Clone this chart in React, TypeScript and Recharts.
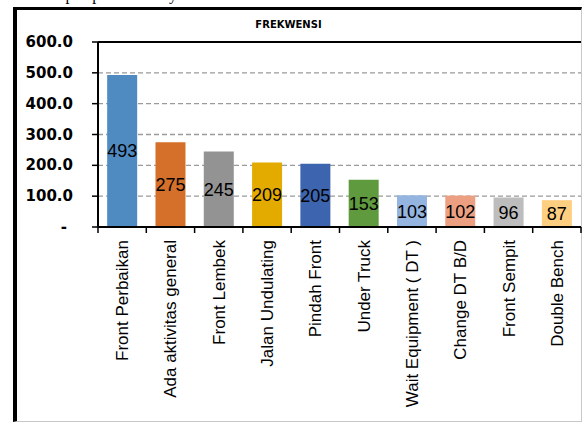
import React from 'react';
import { BarChart, Bar, XAxis, YAxis, CartesianGrid, LabelList, Cell, ReferenceLine } from 'recharts';

const categories = [
  'Front Perbaikan',
  'Ada aktivitas general',
  'Front Lembek',
  'Jalan Undulating',
  'Pindah Front',
  'Under Truck',
  'Wait Equipment ( DT )',
  'Change DT B/D',
  'Front Sempit',
  'Double Bench',
];
const frekwensi = [493, 275, 245, 209, 205, 153, 103, 102, 96, 87];
const barColors = [
  '#4f8bc0', '#d5702b', '#939393', '#e3ab00', '#3d64ae',
  '#5f9a3e', '#93b5e0', '#eda081', '#bdbdbd', '#fecf80',
];
const yTicks = [0, 100, 200, 300, 400, 500, 600];

const data = categories.map((name, i) => ({ name, value: frekwensi[i] }));

const W = 583;
const H = 423;
const LEFT = 98;
const RIGHT = 581;
const TOP = 42;
const BOTTOM = 227;
const band = (RIGHT - LEFT) / categories.length;

// y tick: Excel accounting style, zero shown as a dash
const YTick = (props: any) => {
  const { x, y, payload } = props;
  const v = payload.value;
  return (
    <text x={v === 0 ? x - 6 : x} y={y} dy={5} textAnchor="end"
      fontFamily="DejaVu Sans" fontWeight="bold" fontSize={15} fill="#000">
      {v === 0 ? '-' : v.toFixed(1)}
    </text>
  );
};

// x tick: tick marks on category boundaries, vertical labels
const XTick = (props: any) => {
  const { x, payload, index } = props;
  const last = index === categories.length - 1;
  return (
    <g>
      <line x1={x - band / 2} x2={x - band / 2} y1={BOTTOM} y2={BOTTOM + 6} stroke="#000" strokeWidth={1.5} />
      {last && <line x1={x + band / 2} x2={x + band / 2} y1={BOTTOM} y2={BOTTOM + 6} stroke="#000" strokeWidth={1.5} />}
      <text transform={`translate(${x + 6},${BOTTOM + 13}) rotate(-90)`} textAnchor="end"
        fontFamily="Liberation Sans" fontSize={17} fill="#000">
        {payload.value}
      </text>
    </g>
  );
};

export default function App() {
  return (
    <div style={{ position: 'absolute', left: 0, top: 0, width: W, height: H, overflow: 'hidden', background: '#fff' }}>
      <div style={{ position: 'absolute', left: 2, top: -13, fontFamily: 'Liberation Serif', fontSize: 16, lineHeight: '16px', whiteSpace: 'nowrap' }}>
        frekuensi pelaporan sebanyak 209 kali.
      </div>
      <div style={{ position: 'absolute', left: 13, top: 7, width: W - 14, height: H - 8, borderLeft: '4px solid #000', borderTop: '3px solid #000', borderRight: '1px solid #c8c8c8', borderBottom: '1px solid #c8c8c8', boxSizing: 'border-box' }} />
      <div style={{ position: 'absolute', left: 0, width: W, top: 19, textAlign: 'center', fontFamily: 'DejaVu Sans', fontWeight: 'bold', fontSize: 10 }}>
        <span style={{ position: 'relative', left: -3 }}>FREKWENSI</span>
      </div>
      <div style={{ position: 'absolute', left: 0, top: 0 }}>
        <BarChart width={W} height={H} data={data} barCategoryGap="19%"
          margin={{ top: TOP, right: W - RIGHT, left: 0, bottom: 0 }}>
          <CartesianGrid horizontal vertical={false} stroke="#9a9a9a" strokeDasharray="5 3" strokeWidth={1.3} />
          <ReferenceLine y={600} stroke="#000" strokeWidth={2} />
          <XAxis dataKey="name" height={H - BOTTOM} interval={0} tickLine={false}
            axisLine={{ stroke: '#000', strokeWidth: 2 }} tick={<XTick />} />
          <YAxis width={LEFT} domain={[0, 600]} ticks={yTicks} tickSize={6} tickMargin={19}
            axisLine={{ stroke: '#000', strokeWidth: 2 }} tickLine={{ stroke: '#000', strokeWidth: 1.5 }}
            tick={<YTick />} />
          <Bar dataKey="value" isAnimationActive={false}>
            {data.map((d, i) => (
              <Cell key={d.name} fill={barColors[i]} />
            ))}
            <LabelList dataKey="value" position="center" fill="#000" fontSize={18}
              fontFamily="Liberation Sans" />
          </Bar>
        </BarChart>
      </div>
    </div>
  );
}
